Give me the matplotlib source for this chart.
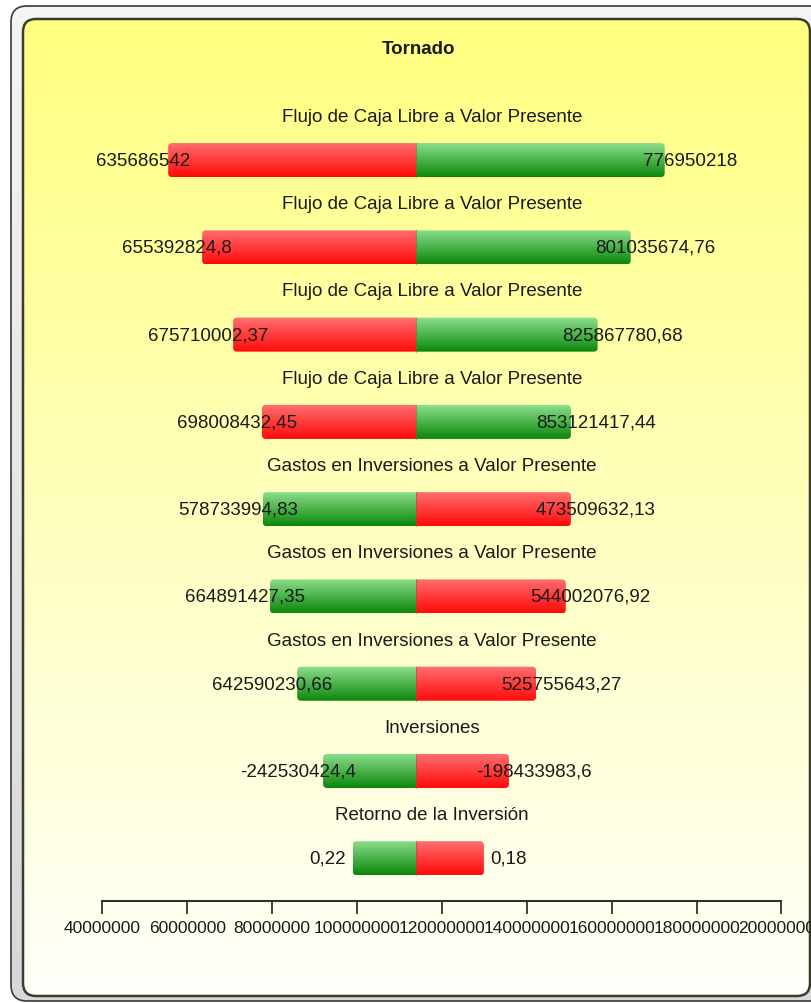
import numpy as np
import matplotlib
matplotlib.use("Agg")
import matplotlib.pyplot as plt
from matplotlib.patches import FancyBboxPatch
from matplotlib.colors import to_rgb

plt.rcParams['font.family'] = ['Liberation Sans', 'DejaVu Sans']

# data
categories = ["Flujo de Caja Libre a Valor Presente"] * 4 + \
             ["Gastos en Inversiones a Valor Presente"] * 3 + \
             ["Inversiones", "Retorno de la Inversión"]
base_value = 114e6
bar_left = [55.5e6, 63.5e6, 70.8e6, 77.6e6, 77.8e6, 79.5e6, 85.9e6, 92.0e6, 99.0e6]
bar_right = [172.5e6, 164.5e6, 156.7e6, 150.4e6, 150.4e6, 149.2e6, 142.2e6, 135.8e6, 129.9e6]
left_labels = ["635686542", "655392824,8", "675710002,37", "698008432,45", "578733994,83",
               "664891427,35", "642590230,66", "-242530424,4", "0,22"]
right_labels = ["776950218", "801035674,76", "825867780,68", "853121417,44", "473509632,13",
                "544002076,92", "525755643,27", "-198433983,6", "0,18"]
left_is_red = [True, True, True, True, False, False, False, False, False]
xticks = [40e6, 60e6, 80e6, 100e6, 120e6, 140e6, 160e6, 180e6, 200e6]

W, H = 811, 1004
fig = plt.figure(figsize=(W / 100, H / 100), dpi=100)


def vgrad(c_top, c_bot, n=64):
    a, b = np.array(to_rgb(c_top)), np.array(to_rgb(c_bot))
    t = np.linspace(0, 1, n)[:, None]
    return (a + (b - a) * t)[:, None, :]


# background frame and panel in pixel coordinates
bg = fig.add_axes([0, 0, 1, 1], zorder=0)
bg.axis("off")

outer = FancyBboxPatch((11, 7), 830, 995, boxstyle="round,pad=0,rounding_size=16",
                       fc="none", ec="#3a3a3a", lw=1.2)
bg.add_patch(outer)
im = bg.imshow(vgrad("#f4f4f4", "#d8d8d8"), extent=(11, 841, 1002, 7), aspect="auto")
im.set_clip_path(outer)

inner = FancyBboxPatch((23, 20), 787, 977, boxstyle="round,pad=0,rounding_size=13",
                       fc="none", ec="#3c3c2c", lw=1.8, zorder=3)
bg.add_patch(inner)
im2 = bg.imshow(vgrad("#ffff80", "#fffffa"), extent=(23, 810, 997, 20), aspect="auto", zorder=2)
im2.set_clip_path(inner)
bg.set_xlim(0, W)
bg.set_ylim(H, 0)

bg.text(419, 50, "Tornado", ha="center", va="center", fontsize=13.5,
        fontweight="bold", color="#1a1a1a")

# main axes
ax = fig.add_axes([102.4 / W, (H - 902) / H, 679 / W, 802 / H], zorder=1)
ax.patch.set_alpha(0)
y = np.arange(len(categories))
bh = 0.39
rx, ry = 0.94e6, 0.046

red = vgrad("#ff7070", "#ff0a0a")
green = vgrad("#8ee08e", "#0b870b")

for i in y:
    l, r = bar_left[i], bar_right[i]
    clip = FancyBboxPatch((l, i - bh / 2), r - l, bh,
                          boxstyle="round,pad=0,rounding_size=%g" % rx,
                          mutation_aspect=ry / rx, fc="none", ec="none")
    ax.add_patch(clip)
    lc, rc = (red, green) if left_is_red[i] else (green, red)
    a = ax.imshow(lc, extent=(l, base_value, i + bh / 2, i - bh / 2), aspect="auto", zorder=2)
    a.set_clip_path(clip)
    b = ax.imshow(rc, extent=(base_value, r, i + bh / 2, i - bh / 2), aspect="auto", zorder=2)
    b.set_clip_path(clip)
    ax.plot([base_value, base_value], [i - bh / 2, i + bh / 2], color="#806040", lw=0.8,
            alpha=0.5, zorder=3)

    ax.annotate(left_labels[i], (l, i), xytext=(-25, 0), textcoords="offset pixels",
                ha="center", va="center", fontsize=13.5, color="#1a1a1a", zorder=4)
    ax.annotate(right_labels[i], (r, i), xytext=(25, 0), textcoords="offset pixels",
                ha="center", va="center", fontsize=13.5, color="#1a1a1a", zorder=4)
    ax.text(0.485, i - 0.5, categories[i], transform=ax.get_yaxis_transform(),
            ha="center", va="center", fontsize=13.5, color="#1a1a1a")

ax.set_xlim(40e6, 200e6)
ax.set_ylim(8.49, -0.70)
ax.set_xticks(xticks)
ax.set_xticklabels(["%d" % v for v in xticks], fontsize=12.5, color="#1a1a1a")
ax.set_yticks([])
for s in ["top", "left", "right"]:
    ax.spines[s].set_visible(False)
ax.spines["bottom"].set_color("#303030")
ax.spines["bottom"].set_linewidth(1.5)
ax.tick_params(axis="x", direction="out", length=9, width=1.3, color="#303030", pad=5)

fig.savefig("out.png", dpi=100)
